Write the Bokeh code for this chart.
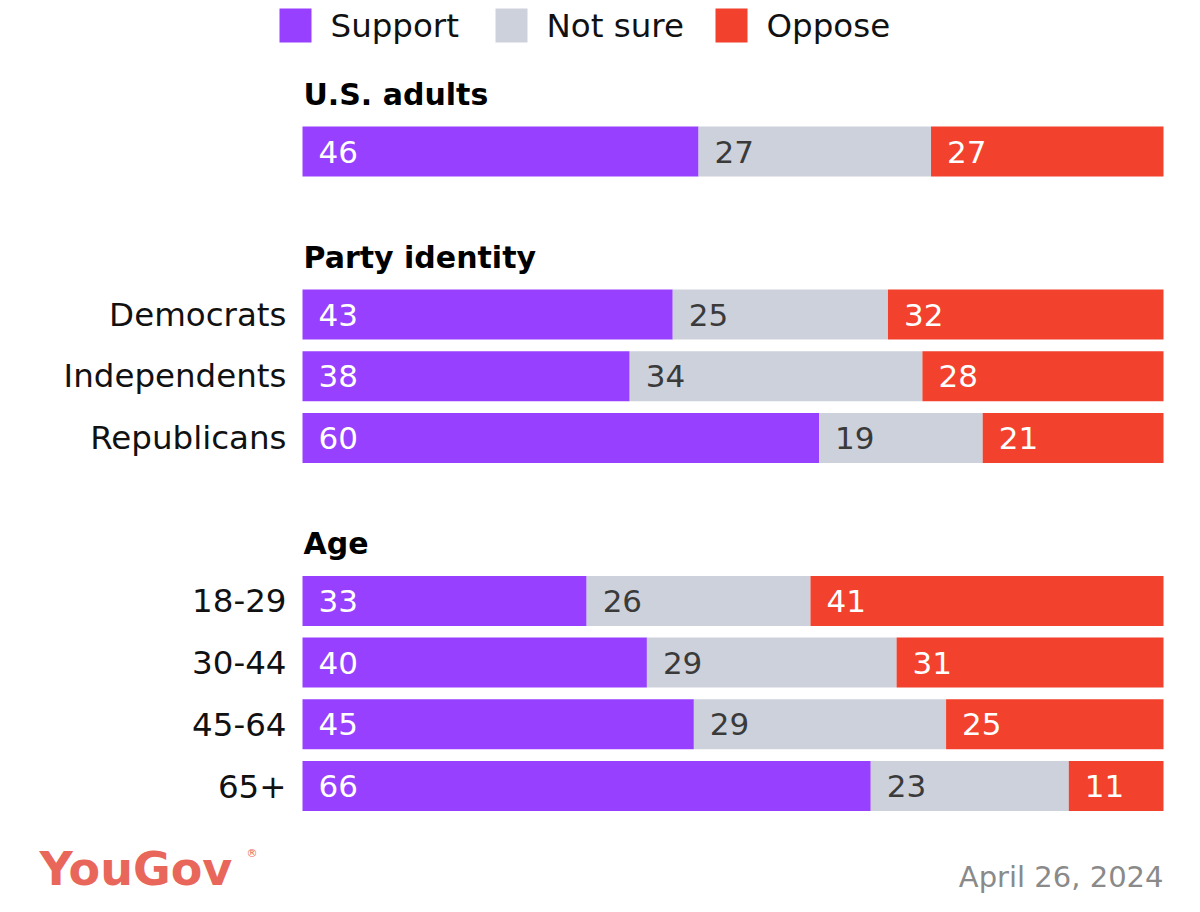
from bokeh.plotting import figure
from bokeh.models import Range1d, ColumnDataSource
from bokeh.core.properties import value
from bokeh.embed import file_html
from bokeh.resources import INLINE

# ---- data ----
groups = ["U.S. adults", "Party identity", "Age"]
categories = [
    [""],
    ["Democrats", "Independents", "Republicans"],
    ["18-29", "30-44", "45-64", "65+"],
]
support = [[46], [43, 38, 60], [33, 40, 45, 66]]
not_sure = [[27], [25, 34, 19], [26, 29, 29, 23]]
oppose = [[27], [32, 28, 21], [41, 31, 25, 11]]
series_names = ["Support", "Not sure", "Oppose"]
date_text = "April 26, 2024"
brand = "YouGov"

# ---- styles ----
COLORS = ["#9740FF", "#CDD1DC", "#F2412D"]
TEXT_COLORS = ["white", "#3a3a3a", "white"]
FONT = "DejaVu Sans"
W, H = 1184, 896
PX = 8.61  # px per percentage point
LEFT = 302  # frame px where 0% sits

p = figure(width=W, height=H, output_backend="svg", toolbar_location=None,
           x_range=Range1d(-LEFT / PX, (W - LEFT) / PX),
           y_range=Range1d(H, 0), min_border=0)
p.axis.visible = False
p.grid.visible = False
p.outline_line_color = None
p.background_fill_color = "white"
p.border_fill_color = "white"

# layout computation
rows = dict(y=[], label=[], s=[], n=[], o=[])
headers = dict(y=[], text=[])
y = 94.0
for g, cats, s, n, o in zip(groups, categories, support, not_sure, oppose):
    headers["y"].append(y)
    headers["text"].append(g)
    yy = y + 57
    for i, c in enumerate(cats):
        rows["y"].append(yy)
        rows["label"].append(c)
        rows["s"].append(s[i])
        rows["n"].append(n[i])
        rows["o"].append(o[i])
        last = yy
        yy += 61.7
    y = last + 106

totals = [a + b + c for a, b, c in zip(rows["s"], rows["n"], rows["o"])]

BAR_H = 50
lefts = [0] * len(rows["y"])
for k, key in enumerate(["s", "n", "o"]):
    vals = rows[key]
    widths = [v * 100.0 / t for v, t in zip(vals, totals)]
    rights = [l + w for l, w in zip(lefts, widths)]
    src = ColumnDataSource(dict(y=rows["y"], left=lefts, right=rights,
                                txt=[str(v) for v in vals]))
    p.hbar(y="y", left="left", right="right", height=BAR_H, source=src,
           fill_color=COLORS[k], line_color=None)
    p.text(x="left", y="y", text="txt", source=src, x_offset=16,
           text_baseline="middle", text_align="left",
           text_font=value(FONT), text_font_size="31px",
           text_color=TEXT_COLORS[k])
    lefts = rights

# category labels
p.text(x=[0] * len(rows["y"]), y=rows["y"], text=rows["label"], x_offset=-16,
       text_align="right", text_baseline="middle", text_font=value(FONT),
       text_font_size="32.5px", text_color="#111111")

# group headers
p.text(x=[0] * len(headers["y"]), y=headers["y"], text=headers["text"], x_offset=1,
       text_align="left", text_baseline="middle", text_font=value(FONT),
       text_font_size="30px", text_font_style="bold", text_color="#000000")

# legend (manual)
leg_px = [279, 495, 715]
leg_x = [(px - LEFT) / PX for px in leg_px]
p.rect(x=[lx + 16 / PX for lx in leg_x], y=[25] * 3, width=32, height=34,
       width_units="screen", height_units="screen", fill_color=COLORS, line_color=None)
p.text(x=leg_x, y=[25] * 3, text=series_names, x_offset=51, text_align="left",
       text_baseline="middle", text_font=value(FONT), text_font_size="32.5px",
       text_color="#111111")

# footer
p.text(x=[(39 - LEFT) / PX], y=[868], text=[brand], text_align="left",
       text_baseline="middle", text_font=value(FONT), text_font_size="46px",
       text_font_style="bold", text_color="#E8675A")
p.text(x=[(246 - LEFT) / PX], y=[853], text=["®"], text_align="left",
       text_baseline="middle", text_font=value(FONT), text_font_size="11px",
       text_color="#E8675A")
p.text(x=[100], y=[876], text=[date_text], text_align="right",
       text_baseline="middle", text_font=value(FONT), text_font_size="29px",
       text_color="#8a8a8a")

open("out.html", "w").write(file_html(p, INLINE))
